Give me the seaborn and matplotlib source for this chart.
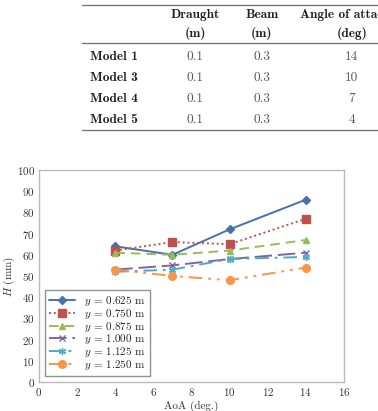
import numpy as np
import pandas as pd
import matplotlib
matplotlib.use("Agg")
import matplotlib.pyplot as plt
from matplotlib.lines import Line2D
import seaborn as sns

sns.set_style("white")
# Computer Modern look (fonts shipped with matplotlib)
plt.rcParams['font.family'] = ['cmr10', 'DejaVu Serif']
plt.rcParams['mathtext.fontset'] = 'cm'
plt.rcParams['axes.formatter.use_mathtext'] = True

# table data
models = ["Model 1", "Model 3", "Model 4", "Model 5"]
draught = ["0.1", "0.1", "0.1", "0.1"]
beam = ["0.3", "0.3", "0.3", "0.3"]
angle = ["14", "10", "7", "4"]

# chart data
aoa = [4, 7, 10, 14]
labels = ["0.625", "0.750", "0.875", "1.000", "1.125", "1.250"]
h_0625 = [64, 60, 72, 86]
h_0750 = [62, 66, 65, 77]
h_0875 = [61, 60, 62, 67]
h_1000 = [53, 55, 58, 61]
h_1125 = [52, 53, 58, 59]
h_1250 = [53, 50, 48, 54]
series = [h_0625, h_0750, h_0875, h_1000, h_1125, h_1250]

colors = ["#4572A7", "#C0504D", "#9BBB59", "#8064A2", "#4BACC6", "#F79646"]
markers = ["D", "s", "^", "x", (6, 2, 0), "o"]
sizes = [3.8, 5.5, 5, 5, 5, 5.5]
styles = ["-", (0, (1, 1.5)), (0, (5, 3)), (0, (9, 3)), (0, (7, 3, 1.5, 3)),
          (0, (7, 3, 1.5, 3, 1.5, 3))]

fig = plt.figure(figsize=(3.78, 4.11), dpi=100)

# --- table at the top ---
def fx(px):
    return px / 378
def fy(py):
    return 1 - py / 411

for yy in [5, 43, 130]:
    fig.add_artist(Line2D([fx(82), fx(378)], [fy(yy), fy(yy)], color="#777777", lw=1.0))

fs = 9.6
bold = ['cmb10', 'DejaVu Serif']
hd = dict(fontsize=fs, family=bold, ha="center", va="center", color="#222222")
fig.text(fx(195), fy(15), "Draught", **hd)
fig.text(fx(195), fy(34), "(m)", **hd)
fig.text(fx(262), fy(15), "Beam", **hd)
fig.text(fx(262), fy(34), "(m)", **hd)
fig.text(fx(300), fy(15), "Angle of attack", fontsize=fs, family=bold, ha="left",
         va="center", color="#222222")
fig.text(fx(352), fy(34), "(deg)", **hd)
row_y = [57, 78, 99, 120]
for i in range(len(models)):
    fig.text(fx(90), fy(row_y[i]), models[i], fontsize=fs, family=bold, ha="left",
             va="center", color="#222222")
    fig.text(fx(195), fy(row_y[i]), draught[i], fontsize=fs, ha="center", va="center", color="#555555")
    fig.text(fx(262), fy(row_y[i]), beam[i], fontsize=fs, ha="center", va="center", color="#555555")
    fig.text(fx(352), fy(row_y[i]), angle[i], fontsize=fs, ha="center", va="center", color="#555555")

# --- chart ---
ax = fig.add_axes([fx(39), fy(382), fx(344) - fx(39), fy(170) - fy(382)])
for i, vals in enumerate(series):
    sns.lineplot(x=aoa, y=vals, ax=ax, color=colors[i], linestyle=styles[i], lw=1.4,
                 marker=markers[i], markersize=sizes[i], markeredgecolor=colors[i],
                 markeredgewidth=1.0, label="$y$ = " + labels[i] + " m")

ax.set_xlim(0, 16)
ax.set_ylim(0, 100)
ax.set_xticks(range(0, 17, 2))
ax.set_yticks(range(0, 101, 10))
ax.tick_params(labelsize=8, length=0, pad=3, colors="#333333")
for s in ax.spines.values():
    s.set_color("#BBBBBB")
    s.set_linewidth(1.0)
ax.set_xlabel("AoA (deg.)", fontsize=8, color="#333333", labelpad=2)
ax.set_ylabel("$H$ (mm)", fontsize=8, color="#333333")
ax.yaxis.set_label_coords(-0.072, 0.5)

leg = ax.legend(loc="lower left", bbox_to_anchor=(0.012, 0.02), fontsize=8, frameon=True,
                fancybox=False, edgecolor="#777777", handlelength=2.4, labelspacing=-0.12,
                borderpad=0.35, handletextpad=0.8, borderaxespad=0.2)
leg.get_frame().set_linewidth(1.0)

fig.savefig("out.png", dpi=100)
